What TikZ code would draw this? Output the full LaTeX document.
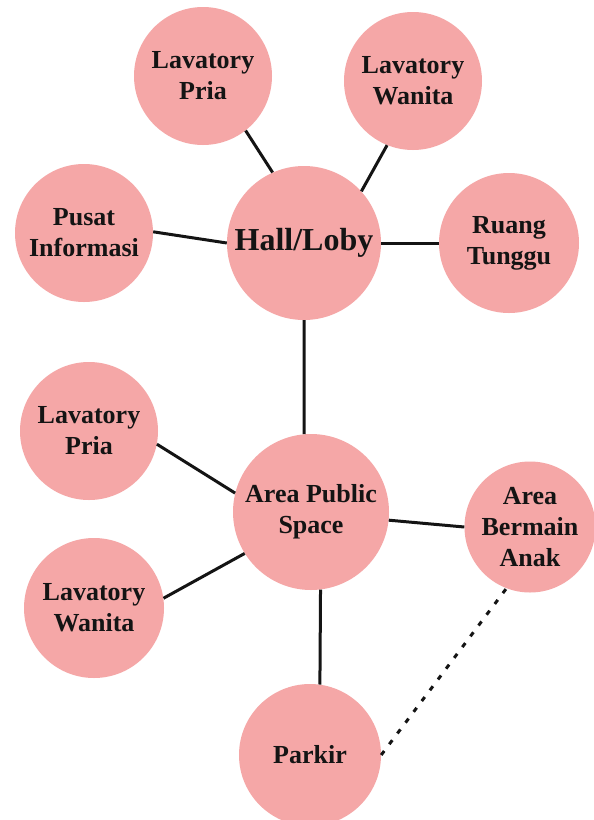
\documentclass[tikz,border=0pt]{standalone}
\usepackage{fontspec}
\setmainfont{Liberation Serif}
\definecolor{roompink}{RGB}{245,167,167}
\definecolor{ink}{RGB}{20,20,20}
\begin{document}
\begin{tikzpicture}[x=1pt,y=-1pt,
  room/.style={circle, fill=roompink, inner sep=0pt, minimum size=138pt,
    align=center, text=ink, font=\bfseries\fontsize{26}{31}\selectfont},
  hub/.style={room, font=\bfseries\fontsize{32}{38}\selectfont},
  link/.style={line width=3pt, draw=ink},
  optlink/.style={link, dash pattern=on 5pt off 8.5pt}]
\useasboundingbox[fill=white] (0,0) rectangle (594,820);

% upper cluster around the hall
\node[hub, minimum size=154pt] (hall) at (304,243) {Hall/Loby};
\node[room] (lavpriaA)   at (203,76)  {Lavatory\\Pria};
\node[room] (lavwanitaA) at (413,81)  {Lavatory\\Wanita};
\node[room] (info)       at (84,233)  {Pusat\\Informasi};
\node[room, minimum size=140pt] (tunggu) at (509,243) {Ruang\\Tunggu};

% lower cluster around the public space
\node[room, minimum size=156pt] (public) at (311,512) {Area Public\\Space};
\node[room] (lavpriaB)   at (89,431)  {Lavatory\\Pria};
\node[room, minimum size=140pt] (lavwanitaB) at (94,608) {Lavatory\\Wanita};
\node[room, minimum size=131pt] (anak) at (530,527) {Area\\Bermain\\Anak};
\node[room, minimum size=142pt] (parkir) at (310,755) {Parkir};

% connections
\draw[link] (lavpriaA.-52.6) -- (hall.114);
\draw[link] (lavwanitaA.-112) -- (hall.42.4);
\draw[link] (info.1) -- (hall.180);
\draw[link] (hall.0) -- (tunggu.180);
\draw[link] (hall.-90) -- (public.95);
\draw[link] (lavpriaB.-11.5) -- (public.166);
\draw[link] (lavwanitaB.8) -- (public.-148);
\draw[link] (public.-6) -- (anak.180);
\draw[link] (public.-83) -- (parkir.82);
\draw[optlink] (parkir.0) -- (anak.-111);
\end{tikzpicture}
\end{document}
